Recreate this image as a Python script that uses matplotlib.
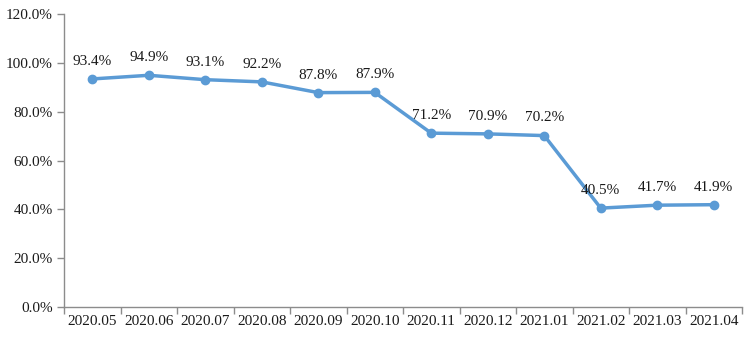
import matplotlib
matplotlib.use("Agg")
import matplotlib.pyplot as plt
import numpy as np

categories = ["2020.05", "2020.06", "2020.07", "2020.08", "2020.09", "2020.10",
              "2020.11", "2020.12", "2021.01", "2021.02", "2021.03", "2021.04"]
values = [93.4, 94.9, 93.1, 92.2, 87.8, 87.9, 71.2, 70.9, 70.2, 40.5, 41.7, 41.9]
yticks = [0, 20, 40, 60, 80, 100, 120]

plt.rcParams['font.family'] = ['Liberation Serif', 'DejaVu Serif']

fig = plt.figure(figsize=(7.5, 3.38), dpi=100)
ax = fig.add_axes([64/750, 31/338, 678/750, 293/338])

x = np.arange(len(categories))
color = "#5B9BD5"
ax.plot(x, values, color=color, lw=2.5, marker="o", ms=6, solid_capstyle="round")
for xi, v in zip(x, values):
    ax.annotate(f"{v:.1f}%", (xi, v), xytext=(0, 8), textcoords="offset points",
                ha="center", va="bottom", fontsize=11, color="#1a1a1a")

ax.set_xlim(-0.5, len(categories) - 0.5)
ax.set_ylim(0, 120)
ax.set_yticks(yticks)
ax.set_yticklabels([f"{t:.1f}%" for t in yticks], fontsize=11, color="#1a1a1a")
ax.set_xticks(x)
ax.set_xticklabels(categories, fontsize=11, color="#1a1a1a")
ax.set_xticks(np.arange(len(categories) + 1) - 0.5, minor=True)
ax.tick_params(axis="x", which="major", length=0, pad=6)
ax.tick_params(axis="x", which="minor", length=5, color="#8c8c8c", width=1)
ax.tick_params(axis="y", length=5, color="#8c8c8c", width=1, pad=3)

for s in ["top", "right"]:
    ax.spines[s].set_visible(False)
for s in ["left", "bottom"]:
    ax.spines[s].set_color("#8c8c8c")
    ax.spines[s].set_linewidth(1)

fig.savefig("out.png", dpi=100)
